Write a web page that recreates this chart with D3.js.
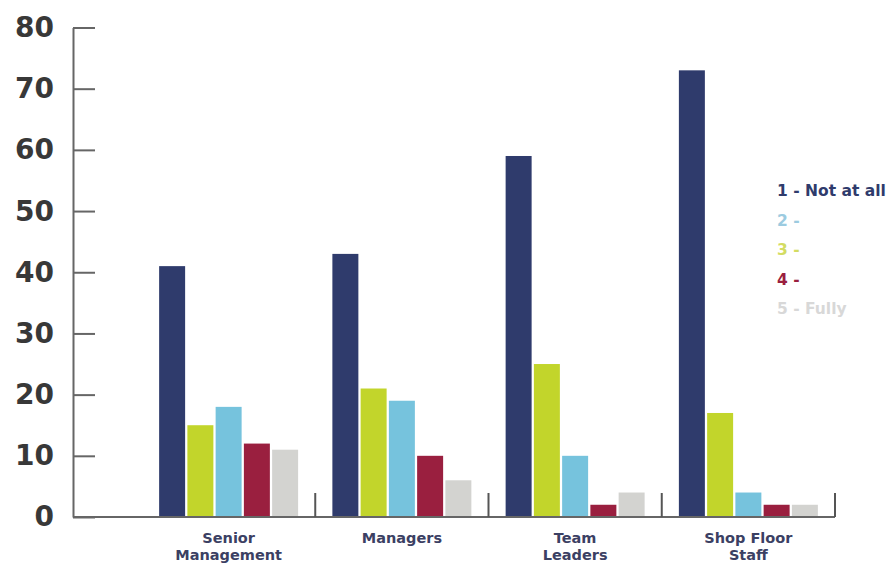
<!DOCTYPE html>
<html>
<head>
<meta charset="utf-8">
<script src="https://cdn.jsdelivr.net/npm/d3@7/dist/d3.min.js"></script>
<style>
  html, body { margin: 0; padding: 0; background: #fff; }
  svg { display: block; }
</style>
</head>
<body>
<svg id="chart" width="888" height="565"></svg>
<script>
// ---- data ----
const categories = ["Senior Management", "Managers", "Team Leaders", "Shop Floor Staff"];
const categoryLines = [["Senior", "Management"], ["Managers"], ["Team", "Leaders"], ["Shop Floor", "Staff"]];
const seriesNames = ["1 - Not at all", "2 -", "3 -", "4 -", "5 - Fully"];
const notAtAll = [41, 43, 59, 73];
const level2 = [18, 19, 10, 4];
const level3 = [15, 21, 25, 17];
const level4 = [12, 10, 2, 2];
const fully = [11, 6, 4, 2];
const seriesValues = [notAtAll, level2, level3, level4, fully];
const barOrder = [0, 2, 1, 3, 4]; // order of bars within each group (as drawn)
const yTicks = [0, 10, 20, 30, 40, 50, 60, 70, 80];

// ---- styles ----
const barColors = ["#2f3b6c", "#76c3dd", "#c2d52b", "#9a1f3f", "#d3d3d0"];
const legendColors = ["#2f3b6c", "#9ccbe0", "#d3dc62", "#9a1f3f", "#d8d8d8"];

const svg = d3.select("#chart");
const axisX0 = 73, axisXEnd = 835, baseY = 517, topY = 27.5;

const y = d3.scaleLinear().domain([0, 80]).range([baseY, topY]);
const x0 = d3.scaleBand().domain(categories).range([142, axisXEnd]).paddingInner(0).paddingOuter(0);
const x1 = d3.scaleBand().domain(barOrder.map(String))
  .range([16, x0.bandwidth() - 16]).paddingInner(0.08).paddingOuter(0.04);

// bars
const groups = svg.append("g").selectAll("g")
  .data(categories)
  .join("g")
  .attr("transform", d => `translate(${x0(d)},0)`);

groups.selectAll("rect")
  .data((d, ci) => barOrder.map(si => ({ si, v: seriesValues[si][ci] })))
  .join("rect")
  .attr("x", d => x1(String(d.si)))
  .attr("width", x1.bandwidth())
  .attr("y", d => y(d.v))
  .attr("height", d => baseY - y(d.v))
  .attr("fill", d => barColors[d.si]);

// y axis
const yAxis = d3.axisLeft(y).tickValues(yTicks).tickSizeInner(-22).tickSizeOuter(0).tickPadding(19);
const gy = svg.append("g").attr("transform", `translate(${axisX0},0)`).call(yAxis);
gy.select(".domain").attr("stroke", "#666").attr("stroke-width", 2);
gy.selectAll(".tick line").attr("stroke", "#666").attr("stroke-width", 2);
gy.selectAll(".tick text")
  .attr("fill", "#383838")
  .style("font-family", "'DejaVu Sans', sans-serif")
  .style("font-weight", "bold")
  .style("font-size", "28px");

// x baseline
svg.append("line")
  .attr("x1", axisX0).attr("x2", axisXEnd)
  .attr("y1", baseY).attr("y2", baseY)
  .attr("stroke", "#666").attr("stroke-width", 2);

// group separators
svg.append("g").selectAll("line")
  .data(categories)
  .join("line")
  .attr("x1", d => x0(d) + x0.bandwidth())
  .attr("x2", d => x0(d) + x0.bandwidth())
  .attr("y1", baseY - 24).attr("y2", baseY)
  .attr("stroke", "#555").attr("stroke-width", 2);

// category labels (one text per line)
const labelData = [];
categories.forEach((c, i) => categoryLines[i].forEach((t, j) => labelData.push({ c, t, j })));
svg.append("g").selectAll("text")
  .data(labelData)
  .join("text")
  .attr("text-anchor", "middle")
  .attr("x", d => x0(d.c) + x0.bandwidth() / 2)
  .attr("y", d => 543 + d.j * 17)
  .attr("fill", "#3b4063")
  .style("font-family", "'DejaVu Sans', sans-serif")
  .style("font-weight", "bold")
  .style("font-size", "14.5px")
  .text(d => d.t);

// legend
svg.append("g").selectAll("text")
  .data(seriesNames)
  .join("text")
  .attr("x", 777)
  .attr("y", (d, i) => 196 + i * 29.5)
  .attr("fill", (d, i) => legendColors[i])
  .style("font-family", "'DejaVu Sans', sans-serif")
  .style("font-weight", "bold")
  .style("font-size", "15.5px")
  .text(d => d);
</script>
</body>
</html>
